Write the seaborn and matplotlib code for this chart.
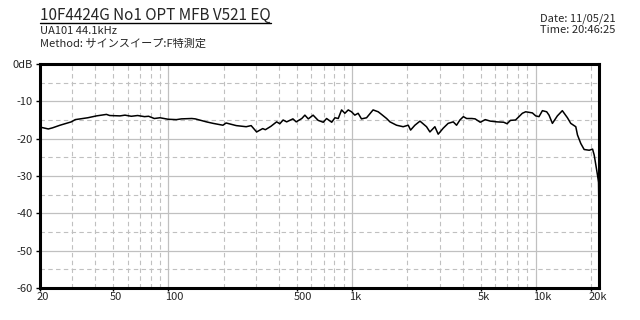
import matplotlib
matplotlib.use("Agg")
import matplotlib.pyplot as plt
import matplotlib.transforms as mtransforms
import seaborn as sns
import pandas as pd
from matplotlib.lines import Line2D
from matplotlib.ticker import FixedLocator, NullFormatter

# ---------------- data ----------------
title = "10F4424G No1 OPT MFB V521 EQ"
info_line1 = "UA101 44.1kHz"
info_line2 = "Method: サインスイープ:F特測定"
date_text = "Date: 11/05/21"
time_text = "Time: 20:46:25"

freq_hz = [20, 22.2, 23.4, 25.7, 29.6, 31.1, 36.4, 40.6, 46.0, 47.9, 54.5, 58, 62.8, 68, 74.1, 78, 83.8,
           90, 99.6, 110.5, 117.7, 134, 140, 161, 175, 198, 206, 234, 265, 282, 302, 326, 337,
           361, 388, 404, 421, 440, 476, 496, 532, 553, 577, 613, 653, 696, 726, 774, 806,
           840, 876, 913, 952, 992, 1034, 1078, 1124, 1198, 1300, 1386, 1445, 1540, 1606,
           1745, 1895, 2020, 2080, 2195, 2340, 2540, 2650, 2820, 2940, 3130, 3330, 3550,
           3700, 3860, 4030, 4200, 4480, 4670, 4980, 5300, 5650, 6140, 6680, 6970, 7270,
           7750, 8090, 8440, 8800, 9570, 9980, 10400, 10850, 11450, 11790, 12300, 13090,
           13930, 14850, 15480, 16490, 16840, 17560, 18310, 19510, 20350, 20770, 21210,
           21650, 21930, 22050]
level_db = [-16.9, -17.4, -17.1, -16.4, -15.5, -14.9, -14.4, -13.9, -13.5, -13.8, -13.9, -13.7, -14.0,
            -13.8, -14.1, -14.0, -14.6, -14.4, -14.8, -14.9, -14.7, -14.6, -14.7, -15.5, -15.9,
            -16.4, -15.8, -16.5, -16.8, -16.5, -18.2, -17.3, -17.6, -16.7, -15.5, -16.0,
            -15.0, -15.5, -14.7, -15.5, -14.6, -13.7, -14.7, -13.7, -15.1, -15.6, -14.6,
            -15.6, -14.4, -14.6, -12.3, -13.2, -12.3, -12.8, -13.7, -13.2, -14.7, -14.4,
            -12.3, -12.8, -13.5, -14.6, -15.5, -16.4, -16.8, -16.4, -17.7, -16.4, -15.3,
            -16.8, -18.2, -16.8, -18.8, -17.2, -15.9, -15.5, -16.4, -15.0, -14.1, -14.6,
            -14.6, -14.7, -15.6, -14.9, -15.3, -15.5, -15.6, -16.0, -15.1, -15.0, -14.1,
            -13.2, -12.8, -13.1, -13.9, -14.1, -12.5, -12.8, -13.7, -15.9, -13.9, -12.5,
            -14.4, -15.9, -16.8, -19.0, -21.3, -22.9, -23.1, -22.8, -24.4, -27.1, -29.8,
            -31.7, -39.9]

x_tick_values = [20, 50, 100, 500, 1000, 5000, 10000, 20000]
x_tick_labels = ["20", "50", "100", "500", "1k", "5k", "10k", "20k"]
y_tick_values = [0, -10, -20, -30, -40, -50, -60]
y_tick_labels = ["0dB", "-10", "-20", "-30", "-40", "-50", "-60"]

df = pd.DataFrame({"freq": freq_hz, "db": level_db})

# ---------------- style ----------------
sns.set_theme(style="white")
FONT = ["Noto Sans CJK JP", "DejaVu Sans"]
plt.rcParams["font.family"] = FONT

fig = plt.figure(figsize=(6.4, 3.2), dpi=100)
fig.patch.set_facecolor("white")
ax = fig.add_axes([0.0625, 0.1, 0.8734, 0.7])
ax.set_facecolor("white")

grid_c = "#c0c0c0"
minor_x = [m * d for d in (10, 100, 1000) for m in range(2, 10) if 20 < m * d <= 20000] + [20000]
for v in minor_x:
    ax.axvline(v, color=grid_c, lw=0.8, ls=(0, (4, 3)), zorder=0)
for v in [-5, -15, -25, -35, -45, -55]:
    ax.axhline(v, color=grid_c, lw=0.8, ls=(0, (4, 3)), zorder=0)
for v in [100, 1000, 10000]:
    ax.axvline(v, color=grid_c, lw=0.9, zorder=0)
for v in [-10, -20, -30, -40, -50]:
    ax.axhline(v, color=grid_c, lw=0.9, zorder=0)

sns.lineplot(data=df, x="freq", y="db", ax=ax, color="black", lw=1.1,
             estimator=None, sort=False, zorder=3)

ax.set_xscale("log")
ax.set_xlim(20, 22050)
ax.set_ylim(-60, 0)
ax.xaxis.set_major_locator(FixedLocator(x_tick_values))
ax.xaxis.set_minor_locator(FixedLocator([]))
ax.xaxis.set_minor_formatter(NullFormatter())
ax.set_xticks(x_tick_values)
ax.set_xticklabels(x_tick_labels, fontsize=8, family=FONT)
ax.set_yticks(y_tick_values)
ax.set_yticklabels(y_tick_labels, fontsize=8, family=FONT)
ax.set_xlabel("")
ax.set_ylabel("")
ax.tick_params(axis="y", direction="out", length=3, width=1, pad=2, color="black", left=True)
ax.tick_params(axis="x", direction="out", length=2, width=1, pad=1, color="black", bottom=True)
shift = mtransforms.ScaledTranslation(-3 / 100, 0, fig.dpi_scale_trans)
for lab in ax.get_xticklabels():
    lab.set_horizontalalignment("left")
    lab.set_transform(lab.get_transform() + shift)
for s in ax.spines.values():
    s.set_visible(True)
    s.set_color("black")
    s.set_linewidth(2.2)

# header texts
title_base = 1 - 20 / 320
t = fig.text(40 / 640, title_base, title, fontsize=11, family=FONT, ha="left", va="baseline")
fig.text(40 / 640, 1 - 34 / 320, info_line1, fontsize=8, family=FONT, ha="left", va="baseline")
fig.text(40 / 640, 1 - 47 / 320, info_line2, fontsize=8, family=FONT, ha="left", va="baseline")
fig.text(540 / 640, 1 - 21 / 320, date_text, fontsize=8, family=FONT, ha="left", va="baseline")
fig.text(540 / 640, 1 - 33 / 320, time_text, fontsize=8, family=FONT, ha="left", va="baseline")

fig.canvas.draw()
bb = t.get_window_extent(renderer=fig.canvas.get_renderer())
uy = title_base - 2.5 / 320
fig.add_artist(Line2D([bb.x0 / fig.bbox.width, bb.x1 / fig.bbox.width], [uy, uy],
                      transform=fig.transFigure, color="black", lw=1))

fig.savefig("out.png", dpi=100, facecolor="white")
